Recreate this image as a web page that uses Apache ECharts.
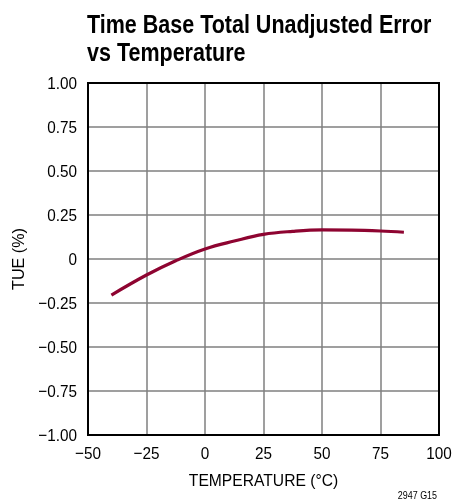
<!DOCTYPE html>
<html><head><meta charset="utf-8">
<script src="https://cdn.jsdelivr.net/npm/echarts@6/dist/echarts.min.js"></script>
<style>html,body{margin:0;padding:0;background:#fff}#c{width:454px;height:504px}</style>
</head><body><div id="c"></div>
<script>
const temps = [-40, -25, -12.5, 0, 12.5, 25, 37.5, 50, 62.5, 75, 85];
const tue   = [-0.205, -0.091, -0.01, 0.057, 0.102, 0.14, 0.157, 0.165, 0.164, 0.159, 0.152];
const xTicks = [-50, -25, 0, 25, 50, 75, 100];
const yTicks = [-1, -0.75, -0.5, -0.25, 0, 0.25, 0.5, 0.75, 1];
const titleLines = ['Time Base Total Unadjusted Error', 'vs Temperature'];
const xName = 'TEMPERATURE (\u00B0C)';
const yName = 'TUE (%)';
const note = '2947 G15';
const FONT = '"Liberation Sans", Arial, sans-serif';
const fmt = v => { if (v === 0) return '0'; const s = Math.abs(v).toFixed(2); return (v < 0 ? '\u2212' : '') + s; };
const fmtX = v => (v < 0 ? '\u2212' : '') + Math.abs(v);
const chart = echarts.init(document.getElementById('c'));
const G = { left: 88, right: 15, top: 83, bottom: 69 };
chart.setOption({
  animation: false,
  grid: G,
  xAxis: {
    type: 'value', min: -50, max: 100, interval: 25,
    axisLine: { show: false }, axisTick: { show: false }, axisLabel: { show: false },
    splitLine: { show: true, lineStyle: { color: '#7f7f7f', width: 1.5 } }
  },
  yAxis: {
    type: 'value', min: -1, max: 1, interval: 0.25,
    axisLine: { show: false }, axisTick: { show: false }, axisLabel: { show: false },
    splitLine: { show: true, lineStyle: { color: '#7f7f7f', width: 1.5 } }
  },
  series: [{
    type: 'line', smooth: 0.4, symbol: 'none',
    data: temps.map((t, i) => [t, tue[i]]),
    lineStyle: { color: '#8e0431', width: 3.2 }, z: 5
  }]
});
function txt(text, x, y, size, align, vAlign, sx, opts) {
  opts = opts || {};
  return {
    type: 'text', x: x, y: y, scaleX: sx, scaleY: 1, rotation: opts.rot || 0,
    style: { text: text, fill: '#000', fontFamily: FONT, fontSize: size, fontWeight: opts.bold ? 'bold' : 'normal',
      textAlign: align, textVerticalAlign: vAlign }, z: 20
  };
}
const els = [];
const x0 = chart.convertToPixel({ xAxisIndex: 0 }, -50);
const x1 = chart.convertToPixel({ xAxisIndex: 0 }, 100);
const y0 = chart.convertToPixel({ yAxisIndex: 0 }, -1);
const y1 = chart.convertToPixel({ yAxisIndex: 0 }, 1);
els.push({ type: 'rect', shape: { x: x0, y: y1, width: x1 - x0, height: y0 - y1 }, style: { fill: 'none', stroke: '#000', lineWidth: 2 }, z: 10 });
xTicks.forEach(v => els.push(txt(fmtX(v), chart.convertToPixel({ xAxisIndex: 0 }, v), y0 + 19, 17, 'center', 'middle', 0.9)));
yTicks.forEach(v => els.push(txt(fmt(v), x0 - 11, chart.convertToPixel({ yAxisIndex: 0 }, v) + 1, 17, 'right', 'middle', 0.9)));
els.push(txt(xName, (x0 + x1) / 2, 481, 17, 'center', 'middle', 0.92));
els.push(txt(yName, 19, (y0 + y1) / 2, 17, 'center', 'middle', 0.95, { rot: Math.PI / 2 }));
els.push(txt(note, 437, 496, 10.5, 'right', 'middle', 0.85));
els.push(txt(titleLines[0], 87, 26, 25, 'left', 'middle', 0.86, { bold: true }));
els.push(txt(titleLines[1], 87, 54, 25, 'left', 'middle', 0.86, { bold: true }));
chart.setOption({ graphic: els });
</script></body></html>
